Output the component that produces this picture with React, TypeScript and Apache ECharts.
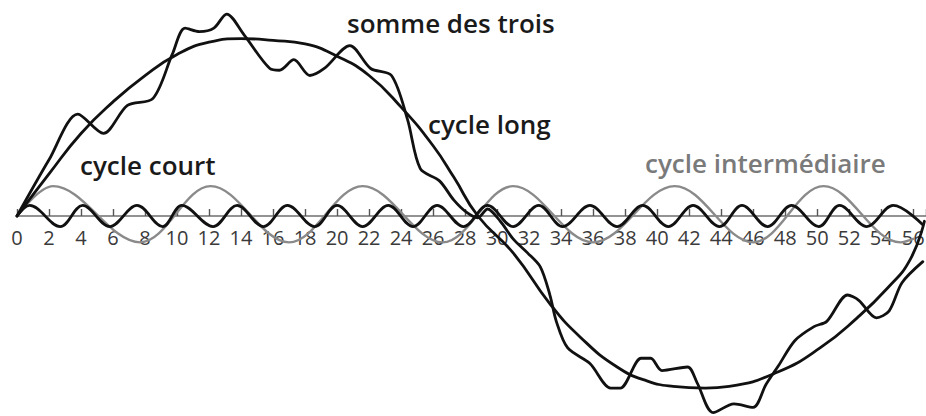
import { useEffect, useRef } from "react";
import * as echarts from "echarts";

// x positions of the tick labels (cycle units)
const tickLabels = [0, 2, 4, 6, 8, 10, 12, 14, 16, 18, 20, 22, 24, 26, 28, 30, 32, 34, 36, 38, 40, 42, 44, 46, 48, 50, 52, 54, 56];

// cycle long : [t, value]
const longCycle: [number, number][] = [
  [0, 0], [2, 24], [4, 47], [6, 65], [8, 80], [10, 92], [12, 99], [14, 101], [16, 100], [18, 98],
  [20, 91], [22, 80], [24, 62], [26, 40], [27.3, 22], [28.8, 0], [31, -21], [33.3, -50], [35.2, -69],
  [37.5, -86], [39.4, -94], [41, -97], [43, -98], [44.5, -97], [47.5, -89], [50.2, -75], [52.5, -58],
  [54.4, -41], [55.8, -25], [56.7, -3],
];

// cycle intermédiaire : extremes [t, value]
const intermediateCycle: [number, number][] = [
  [0, 0], [2.25, 17], [7.7, -15], [12.1, 17], [17, -15], [21.6, 17], [26.6, -15], [31, 17],
  [36, -15], [41.1, 17], [46, -15], [50.4, 17], [55.2, -15], [56, -13],
];

// cycle court : extremes [t, value]
const shortCycle: [number, number][] = [
  [0, 0], [0.8, 6], [2.7, -6], [4.1, 6], [5.8, -6], [7.5, 6], [9.1, -6], [10.3, 6], [12.25, -6],
  [13.75, 6], [15.4, -6], [16.9, 6], [18.6, -6], [20, 6], [21.6, -6], [23.2, 6], [24.75, -6],
  [26.25, 6], [27.9, -6], [29.4, 6], [31, -6], [32.6, 6], [34.1, -6], [35.8, 6], [37.5, -6],
  [39.1, 6], [40.7, -6], [42.25, 6], [43.9, -6], [45.3, 6], [46.9, -6], [48.4, 6], [50.1, -6],
  [51.4, 6], [53.1, -6], [54.75, 6], [56.6, -5],
];

// somme des trois : [t, value]
const sumOfThree: [number, number][] = [
  [0, 0], [2, 32], [3.8, 58], [5.4, 47], [6.9, 63], [8.5, 67], [9.7, 92], [10.5, 107], [11.4, 105],
  [12.3, 107], [13.1, 115], [14.2, 103], [15.8, 84], [16.4, 83], [17.3, 89], [18.3, 80], [19.2, 84],
  [20.8, 97], [22.1, 84], [23.4, 80], [24.4, 55], [25.2, 27], [26.4, 20], [27.3, 9], [28.1, 2],
  [28.8, -1], [29.4, 4], [30.2, -3], [31, -13], [31.9, -21], [32.7, -29], [33.3, -45], [33.7, -60],
  [34.4, -75], [35.8, -84], [37.1, -98], [37.7, -98], [39, -81], [39.6, -81], [40.3, -88], [41.9, -86],
  [42.5, -95], [43.5, -112], [44.8, -107], [46, -109], [46.8, -96], [47.6, -85], [48.6, -71],
  [49.8, -63], [50.6, -60], [51.9, -45], [52.6, -48], [53.7, -58], [54.5, -54], [55.3, -38], [56.6, -26],
];

const FONT = "'Open Sans', 'Noto Sans', 'DejaVu Sans', sans-serif";

export default function App() {
  const ref = useRef<HTMLDivElement>(null);

  useEffect(() => {
    if (!ref.current) return;
    const chart = echarts.init(ref.current, null, { renderer: "svg" });
    const lineSeries = (name: string, data: [number, number][], color: string, width: number, smooth: number) => ({
      name,
      type: "line",
      data,
      smooth,
      symbol: "none",
      showSymbol: false,
      clip: false,
      lineStyle: { color, width, cap: "round", join: "round" },
    });
    chart.setOption({
      animation: false,
      backgroundColor: "#ffffff",
      // the grid spans from the top of the picture down to the zero line;
      // negative values are drawn below it (clip: false)
      grid: { left: 17, right: 0, top: 0, bottom: 200, containLabel: false, outerBoundsMode: "none" },
      xAxis: {
        type: "value",
        min: 0,
        max: 56.8,
        interval: 2,
        position: "bottom",
        axisLine: { show: true, onZero: false, lineStyle: { color: "#6f6f6f", width: 1.6 } },
        axisTick: { show: true, inside: true, length: 7, lineStyle: { color: "#555", width: 1.4 } },
        axisLabel: {
          show: true,
          margin: 11,
          fontFamily: FONT,
          fontSize: 20,
          color: "#3a3a3a",
          formatter: (v: number) => (tickLabels.includes(v) ? String(v) : ""),
        },
        splitLine: { show: false },
      },
      yAxis: {
        type: "value",
        min: 0,
        max: 123,
        show: false,
        splitLine: { show: false },
      },
      series: [
        lineSeries("cycle intermédiaire", intermediateCycle, "#8a8a8a", 2.4, 0.36),
        lineSeries("cycle court", shortCycle, "#111111", 2.8, 0.36),
        lineSeries("cycle long", longCycle, "#111111", 2.8, 0.5),
        lineSeries("somme des trois", sumOfThree, "#111111", 2.8, 0.3),
      ],
      graphic: [
        { type: "text", left: 347, top: 10, style: { text: "somme des trois", font: `600 26px ${FONT}`, fill: "#1a1a1a" } },
        { type: "text", left: 428, top: 111, style: { text: "cycle long", font: `600 26px ${FONT}`, fill: "#1a1a1a" } },
        { type: "text", left: 80, top: 152, style: { text: "cycle court", font: `600 26px ${FONT}`, fill: "#1a1a1a" } },
        { type: "text", left: 645, top: 150, style: { text: "cycle intermédiaire", font: `600 26px ${FONT}`, fill: "#7a7a7a" } },
      ],
    });
    return () => chart.dispose();
  }, []);

  return (
    <div
      ref={ref}
      style={{ position: "fixed", left: 0, top: 0, width: 926, height: 416, background: "#fff" }}
    />
  );
}
